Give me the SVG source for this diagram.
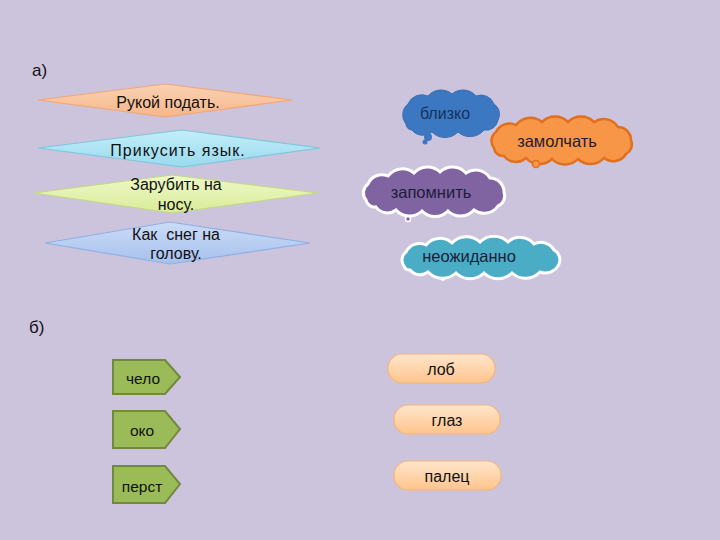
<svg xmlns="http://www.w3.org/2000/svg" width="720" height="540" viewBox="0 0 720 540">
<defs>
<linearGradient id="gO" x1="0" y1="0" x2="0" y2="1"><stop offset="0" stop-color="#FAD2B4"/><stop offset="1" stop-color="#F7B689"/></linearGradient>
<linearGradient id="gB" x1="0" y1="0" x2="0" y2="1"><stop offset="0" stop-color="#C4EEF8"/><stop offset="1" stop-color="#97DAEE"/></linearGradient>
<linearGradient id="gG" x1="0" y1="0" x2="0" y2="1"><stop offset="0" stop-color="#EEF8C8"/><stop offset="1" stop-color="#D9EC98"/></linearGradient>
<linearGradient id="gV" x1="0" y1="0" x2="0" y2="1"><stop offset="0" stop-color="#CCDCF6"/><stop offset="1" stop-color="#A6C0EE"/></linearGradient>
<linearGradient id="gP" x1="0" y1="0" x2="0" y2="1"><stop offset="0" stop-color="#FFE6CC"/><stop offset="1" stop-color="#FFC48C"/></linearGradient>
</defs>
<style>
text{font-family:"Liberation Sans","DejaVu Sans",sans-serif;font-size:16px;fill:#111;text-anchor:middle}
.lbl{font-size:17px;text-anchor:start}
.dia{stroke-width:1.2}
.pent{fill:#9BBB59;stroke:#71893F;stroke-width:2}
.pill{fill:url(#gP);stroke:#F5B47A;stroke-width:1.2}
.ct{font-size:16.5px;fill:#1C1C3A}
.pt{font-size:15.5px}
</style>
<rect width="720" height="540" fill="#CCC3DC"/>
<text class="lbl" x="32" y="76">а)</text>
<text class="lbl" x="29" y="333">б)</text>

<g id="d1"><polygon class="dia" points="38,100 165,84 292,100 165,117" fill="url(#gO)" stroke="#F2A774"/><text x="168" y="108">Рукой подать.</text></g>
<g id="d2"><polygon class="dia" points="38,148 182,130 320,148 182,167" fill="url(#gB)" stroke="#7CC6DE"/><text x="178" y="156" style="letter-spacing:1px">Прикусить язык.</text></g>
<g id="d3"><polygon class="dia" points="34,193 172,175 318,193 172,213" fill="url(#gG)" stroke="#C3DA80"/><text x="176" y="190">Зарубить на</text><text x="176" y="210">носу.</text></g>
<g id="d4"><polygon class="dia" points="45,243 170,222 310,243 170,264" fill="url(#gV)" stroke="#8FB0E6"/><text x="176" y="240" style="white-space:pre">Как  снег на</text><text x="176" y="259">голову.</text></g>

<g id="c1">
<path d="M406,124 A14 14 0 0 1 408,104 A15 15 0 0 1 428,96 A17 17 0 0 1 452,94 A17 17 0 0 1 476,96 A14 14 0 0 1 494,104 A12 12 0 0 1 498,120 A12 12 0 0 1 484,130 A18 18 0 0 1 458,132 A18 18 0 0 1 432,132 A14 14 0 0 1 412,130 A6 6 0 0 1 406,124 Z" fill="#3C78C2" stroke="#3A6FB0" stroke-width="1"/>
<circle cx="428" cy="137" r="4" fill="#3C78C2"/><circle cx="425" cy="142" r="2.5" fill="#3C78C2"/>
<text x="445" y="119" style="fill:#17305A">близко</text></g>

<g id="c2">
<path d="M494,148 A11 11 0 0 1 496,132 A15 15 0 0 1 516,125 A18 18 0 0 1 542,122 A18 18 0 0 1 568,122 A18 18 0 0 1 594,122 A17 17 0 0 1 618,127 A13 13 0 0 1 631,140 A11 11 0 0 1 626,154 A15 15 0 0 1 604,158 A18 18 0 0 1 578,159 A18 18 0 0 1 552,159 A18 18 0 0 1 526,158 A15 15 0 0 1 504,156 A9 9 0 0 1 494,148 Z" fill="#F79646" stroke="#E0701E" stroke-width="2.5"/>
<circle cx="536" cy="164" r="3.5" fill="#F79646" stroke="#E0701E" stroke-width="1.5"/>
<text class="ct" x="557" y="147">замолчать</text></g>

<g id="c3">
<path d="M366,200 A11 11 0 0 1 368,184 A15 15 0 0 1 388,176 A18 18 0 0 1 414,173 A18 18 0 0 1 440,172 A18 18 0 0 1 466,173 A17 17 0 0 1 490,178 A14 14 0 0 1 504,192 A11 11 0 0 1 498,206 A17 17 0 0 1 474,210 A18 18 0 0 1 448,211 A18 18 0 0 1 422,211 A18 18 0 0 1 396,210 A14 14 0 0 1 376,207 A9 9 0 0 1 366,200 Z" fill="#8064A2" stroke="#FFFFFF" stroke-width="3"/>
<circle cx="408" cy="219" r="2.5" fill="#8064A2" stroke="#FFFFFF" stroke-width="1.5"/>
<text class="ct" x="431" y="198">запомнить</text></g>

<g id="c4">
<path d="M404,266 A10 10 0 0 1 406,252 A15 15 0 0 1 426,245 A18 18 0 0 1 452,243 A20 20 0 0 1 480,242 A20 20 0 0 1 508,242 A18 18 0 0 1 534,244 A15 15 0 0 1 554,250 A11 11 0 0 1 559,264 A15 15 0 0 1 540,272 A20 20 0 0 1 512,273 A20 20 0 0 1 484,273 A20 20 0 0 1 456,273 A20 20 0 0 1 428,272 A13 13 0 0 1 410,270 A6 6 0 0 1 404,266 Z" fill="#4BACC6" stroke="#FFFFFF" stroke-width="3"/>
<circle cx="443" cy="279" r="2" fill="#FFFFFF"/>
<text class="ct" x="469" y="262">неожиданно</text></g>

<g id="p1"><polygon class="pent" points="113,360 165,360 180,377 165,394 113,394"/><text class="pt" x="143" y="384">чело</text></g>
<g id="p2"><polygon class="pent" points="113,411 165,411 180,429 165,448 113,448"/><text class="pt" x="142" y="436">око</text></g>
<g id="p3"><polygon class="pent" points="113,466 165,466 180,484 165,503 113,503"/><text class="pt" x="142" y="492">перст</text></g>

<g id="r1"><rect class="pill" x="388" y="354" width="107" height="29" rx="14"/><text x="441" y="375">лоб</text></g>
<g id="r2"><rect class="pill" x="394" y="405" width="106" height="29" rx="14"/><text x="447" y="426">глаз</text></g>
<g id="r3"><rect class="pill" x="394" y="461" width="107" height="29" rx="14"/><text x="447" y="482">палец</text></g>
<g id="connectors"/>
</svg>
